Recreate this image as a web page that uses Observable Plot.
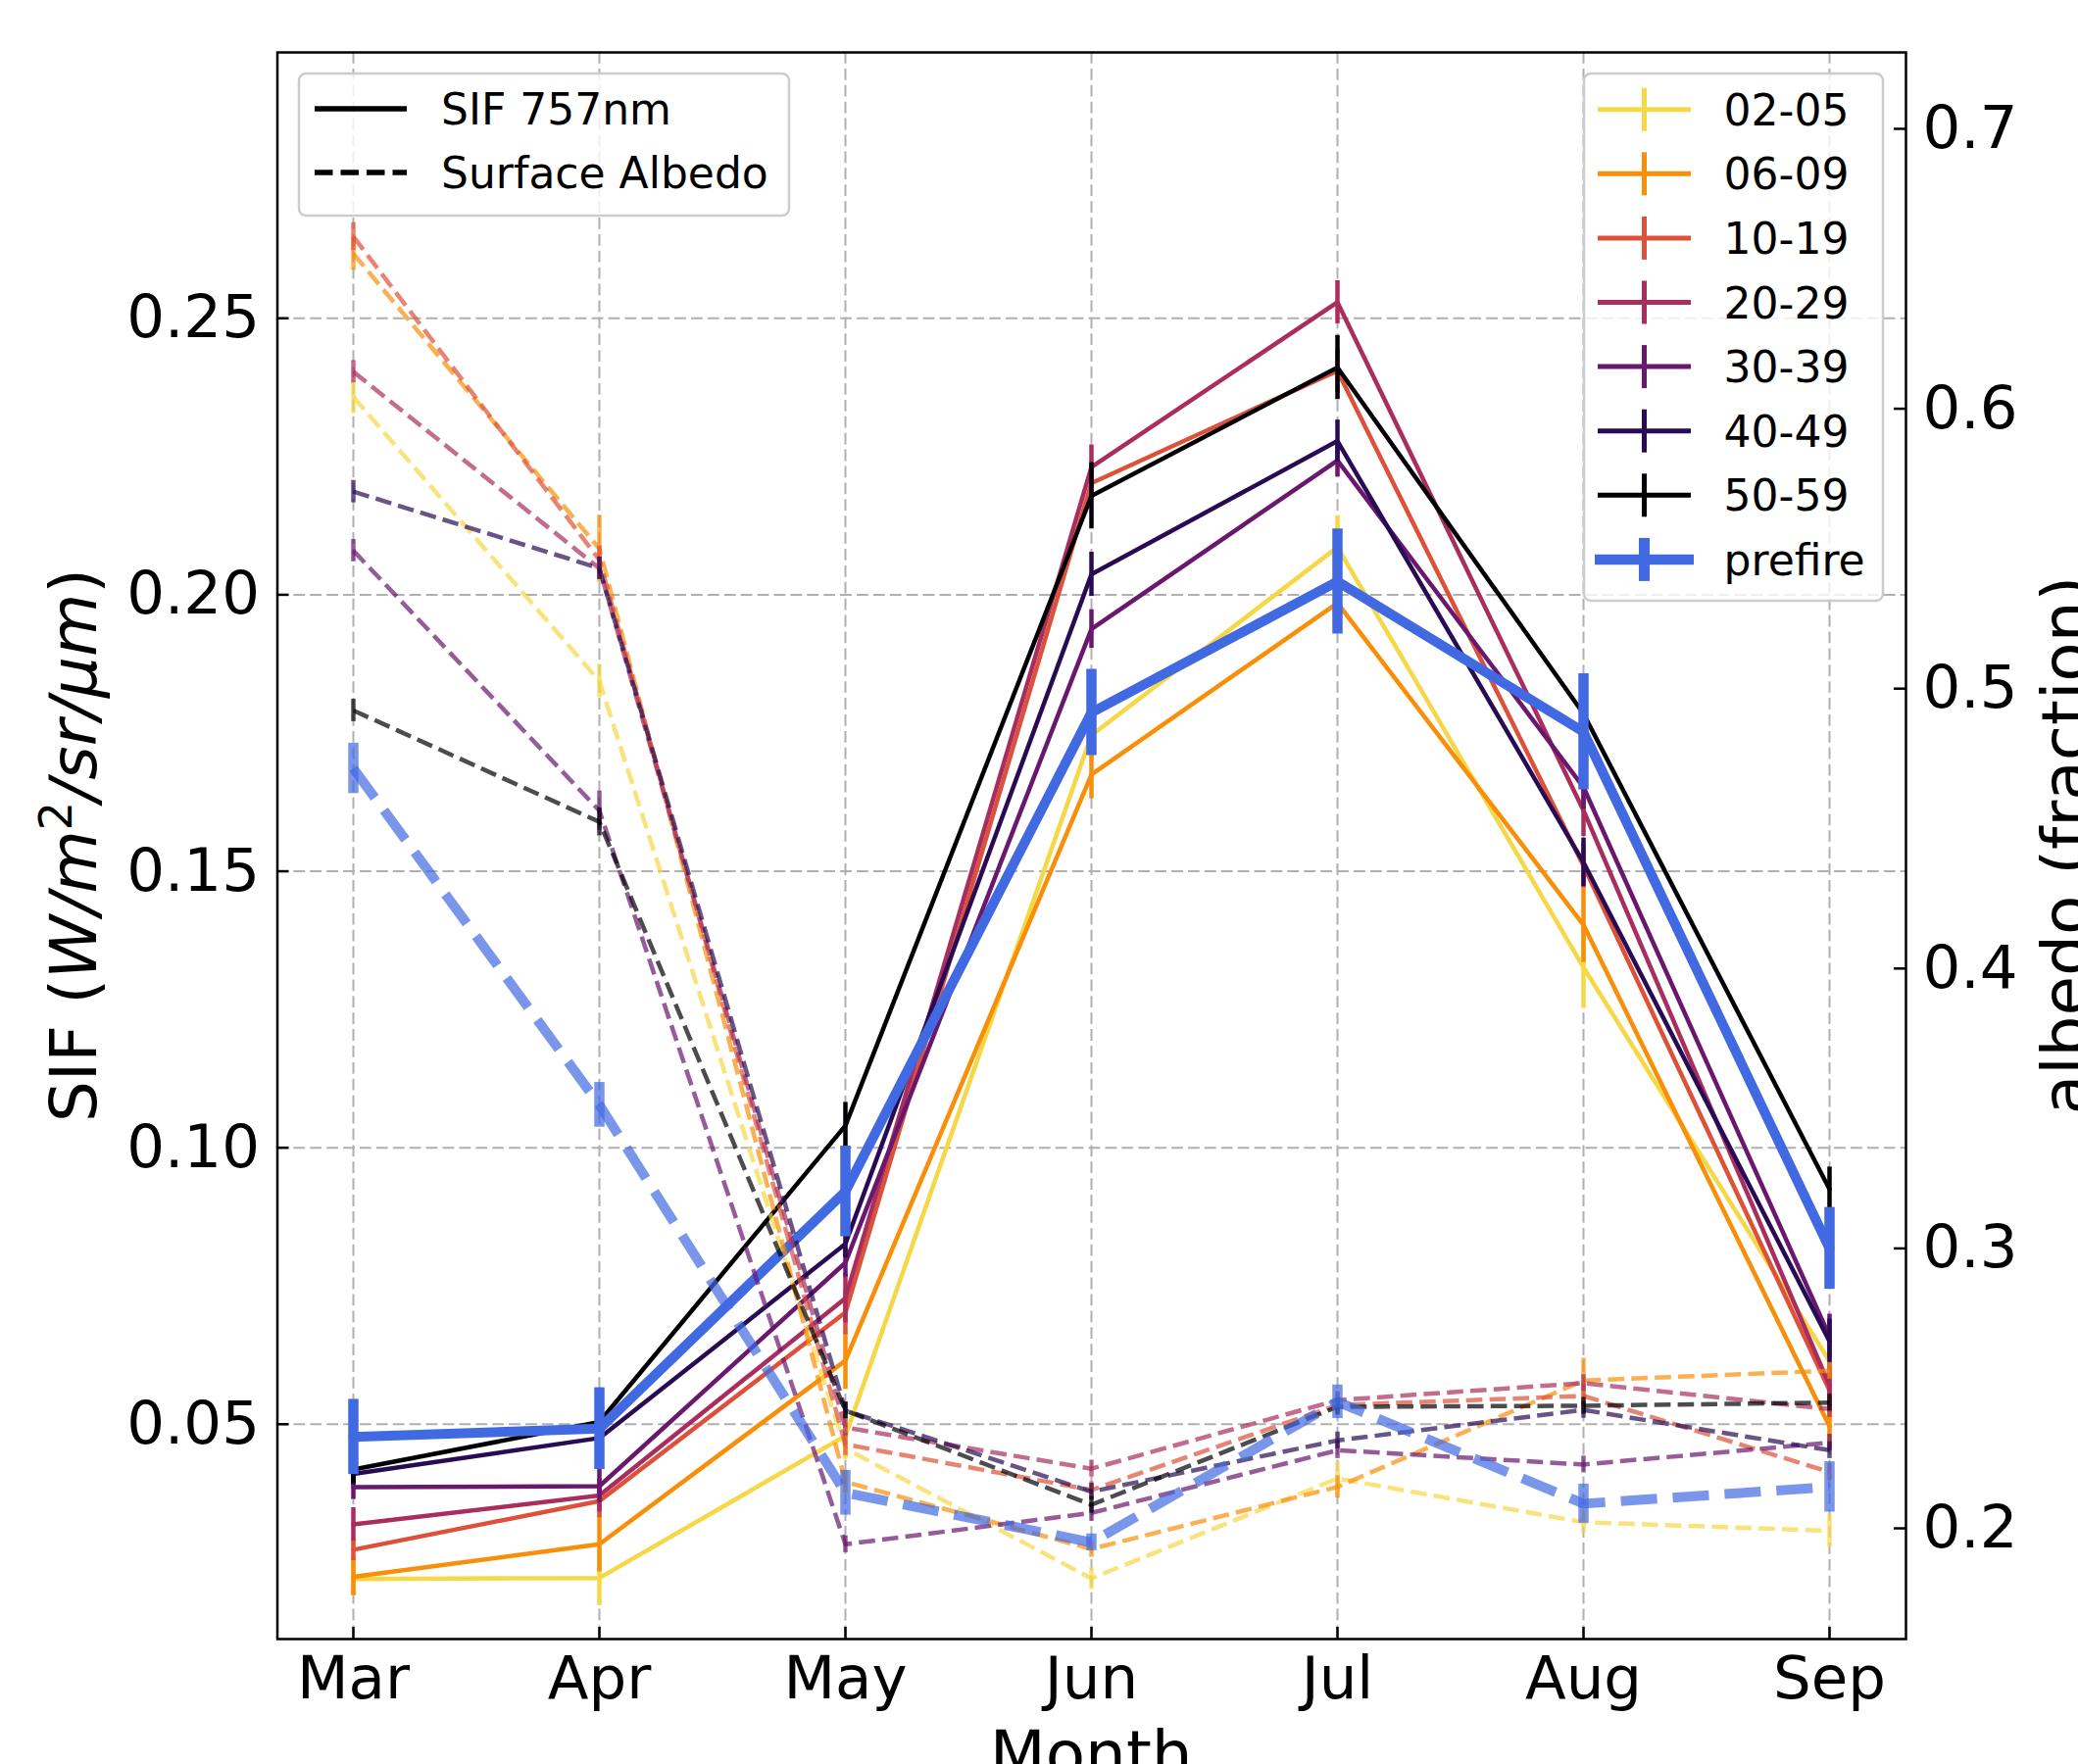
<!DOCTYPE html>
<html><head><meta charset="utf-8">
<script src="https://cdn.jsdelivr.net/npm/d3@7"></script>
<script src="https://cdn.jsdelivr.net/npm/@observablehq/plot@0.6"></script>
<style>html,body{margin:0;padding:0;background:#fff;overflow:hidden} svg{display:block}</style>
</head><body><div id="chart"></div>
<script>
const months = ["Mar","Apr","May","Jun","Jul","Aug","Sep"];
const groups = ["02-05","06-09","10-19","20-29","30-39","40-49","50-59","prefire"];
const groupColors = ["#f6d746","#f98e09","#dd513a","#a92e5e","#6a176e","#280b53","#000004","#4169e1"];

// SIF 757nm values (left axis)
const sif0205 = [0.0220,0.0222,0.0479,0.1746,0.2086,0.1326,0.0614];
const sif0609 = [0.0224,0.0283,0.0615,0.1675,0.1985,0.1403,0.0496];
const sif1019 = [0.0273,0.0361,0.0702,0.2202,0.2405,0.1510,0.0561];
const sif2029 = [0.0319,0.0371,0.0728,0.2231,0.2529,0.1610,0.0570];
const sif3039 = [0.0386,0.0388,0.0792,0.1938,0.2243,0.1652,0.0659];
const sif4049 = [0.0410,0.0475,0.0826,0.2037,0.2278,0.1516,0.0650];
const sif5059 = [0.0418,0.0504,0.1040,0.2179,0.2411,0.1785,0.0925];
const sifPrefire = [0.0477,0.0492,0.0921,0.1787,0.2024,0.1752,0.0818];

// SIF error half-widths
const sifErr0205 = [0.003,0.005,0.004,0.004,0.0057,0.0074,0.004];
const sifErr0609 = [0.0034,0.005,0.0052,0.0044,0.004,0.0068,0.004];
const sifErr1019 = [0.002,0.003,0.004,0.003,0.004,0.004,0.004];
const sifErr2029 = [0.003,0.003,0.0045,0.004,0.0039,0.0047,0.004];
const sifErr3039 = [0.0022,0.003,0.0026,0.0035,0.003,0.004,0.004];
const sifErr4049 = [0.002,0.002,0.0025,0.004,0.0038,0.0044,0.004];
const sifErr5059 = [0.0025,0.002,0.0042,0.006,0.0058,0.003,0.004];
const sifErrPrefire = [0.0068,0.0074,0.0082,0.0078,0.0095,0.0105,0.0074];

// Surface albedo values (right axis)
const alb0205 = [0.6042,0.5027,0.2285,0.1821,0.2178,0.2022,0.1991];
const alb0609 = [0.6554,0.5500,0.2166,0.1926,0.2148,0.2528,0.2563];
const alb1019 = [0.6615,0.5460,0.2300,0.2137,0.2440,0.2473,0.2201];
const alb2029 = [0.6132,0.5430,0.2360,0.2213,0.2458,0.2519,0.2426];
const alb3039 = [0.5493,0.4564,0.1943,0.2055,0.2279,0.2228,0.2306];
const alb4049 = [0.5704,0.5430,0.2421,0.2131,0.2314,0.2423,0.2279];
const alb5059 = [0.4922,0.4524,0.2421,0.2084,0.2434,0.2438,0.2449];
const albPrefire = [0.4715,0.3513,0.2127,0.1950,0.2452,0.2088,0.2148];

// albedo error half-widths
const albErr0205 = [0.006,0.006,0.004,0.004,0.006,0.004,0.006];
const albErr0609 = [0.006,0.012,0.004,0.003,0.004,0.008,0.003];
const albErr1019 = [0.005,0.005,0.004,0.003,0.003,0.004,0.003];
const albErr2029 = [0.004,0.004,0.003,0.003,0.003,0.003,0.003];
const albErr3039 = [0.004,0.007,0.003,0.003,0.003,0.003,0.003];
const albErr4049 = [0.004,0.004,0.003,0.003,0.003,0.003,0.003];
const albErr5059 = [0.004,0.005,0.003,0.003,0.003,0.003,0.003];
const albErrPrefire = [0.009,0.008,0.008,0.003,0.006,0.007,0.009];

const sifTicks = [0.05,0.10,0.15,0.20,0.25];
const albTicks = [0.2,0.3,0.4,0.5,0.6,0.7];

const sifSeries = [sif0205,sif0609,sif1019,sif2029,sif3039,sif4049,sif5059,sifPrefire];
const sifErrSeries = [sifErr0205,sifErr0609,sifErr1019,sifErr2029,sifErr3039,sifErr4049,sifErr5059,sifErrPrefire];
const albSeries = [alb0205,alb0609,alb1019,alb2029,alb3039,alb4049,alb5059,albPrefire];
const albErrSeries = [albErr0205,albErr0609,albErr1019,albErr2029,albErr3039,albErr4049,albErr5059,albErrPrefire];

// dual-axis mapping (left SIF domain <-> right albedo domain)
const Y0 = 0.01115, Y1 = 0.29808, A0 = 0.16044, A1 = 0.7273;
const toLeft = v => Y0 + (v - A0) * (Y1 - Y0) / (A1 - A0);
const fromLeft = s => A0 + (s - Y0) * (A1 - A0) / (Y1 - Y0);

const W = 2120, H = 1800;
const mL = 282.5, mR = 176, mT = 53, mB = 128;
const plotW = W - mL - mR, plotH = H - mT - mB;
const FONT = "DejaVu Sans";

const rowsFor = i => months.map((m, j) => ({
  group: groups[i], month: m,
  sif: sifSeries[i][j], sifErr: sifErrSeries[i][j],
  alb: toLeft(albSeries[i][j]),
  albLo: toLeft(albSeries[i][j] - albErrSeries[i][j]),
  albHi: toLeft(albSeries[i][j] + albErrSeries[i][j])
}));

const grid = {stroke: "#b0b0b0", strokeOpacity: 1, strokeWidth: 2, strokeDasharray: "11.8,5.1"};
const marks = [
  Plot.gridX(months, grid),
  Plot.gridY(sifTicks, grid)
];
groups.forEach((g, i) => {
  const rows = rowsFor(i);
  const pre = g === "prefire";
  const c = groupColors[i];
  marks.push(Plot.line(rows, {x: "month", y: "sif", stroke: c, strokeWidth: pre ? 10 : 4.5, strokeLinejoin: "round"}));
  marks.push(Plot.ruleX(rows, {x: "month", y1: d => d.sif - d.sifErr, y2: d => d.sif + d.sifErr, stroke: c, strokeWidth: pre ? 10.5 : 4.5, strokeLinecap: "butt"}));
});
groups.forEach((g, i) => {
  const rows = rowsFor(i);
  const pre = g === "prefire";
  const c = groupColors[i];
  const lw = pre ? 10 : 4.5;
  marks.push(Plot.line(rows, {x: "month", y: "alb", stroke: c, strokeOpacity: 0.7, strokeWidth: lw, strokeDasharray: `${3.7*lw},${1.6*lw}`, strokeLinecap: "butt"}));
  marks.push(Plot.ruleX(rows, {x: "month", y1: "albLo", y2: "albHi", stroke: c, strokeOpacity: 0.7, strokeWidth: pre ? 10.5 : 4.5, strokeLinecap: "butt"}));
});
marks.push(
  Plot.frame({stroke: "black", strokeWidth: 2.5}),
  Plot.tickX(months, {x: d => d, stroke: "black", strokeWidth: 2.5, insetTop: plotH - 12}),
  Plot.tickY(sifTicks, {y: d => d, stroke: "black", strokeWidth: 2.5, insetRight: plotW - 12}),
  Plot.tickY(albTicks.map(toLeft), {y: d => d, stroke: "black", strokeWidth: 2.5, insetLeft: plotW - 12}),
  Plot.axisX(months, {tickSize: 0, tickPadding: 17, fontSize: 61, label: null}),
  Plot.axisY(sifTicks, {tickSize: 0, tickPadding: 18, fontSize: 61, label: null, tickFormat: d => d.toFixed(2)}),
  Plot.axisY(albTicks.map(toLeft), {anchor: "right", tickSize: 0, tickPadding: 17, fontSize: 61, label: null, tickFormat: d => fromLeft(d).toFixed(1)})
);

const svg = Plot.plot({
  width: W, height: H,
  marginLeft: mL, marginRight: mR, marginTop: mT, marginBottom: mB,
  style: {fontFamily: FONT, fontSize: "61px", background: "white", color: "black"},
  x: {type: "point", domain: months, padding: 0.3, label: null},
  y: {domain: [Y0, Y1], label: null},
  marks
});
document.getElementById("chart").appendChild(svg);

const s = d3.select(svg);
// axis titles
const ylab = s.append("text").attr("transform", "translate(98,862.5) rotate(-90)")
  .attr("text-anchor", "middle").attr("font-size", 66).attr("font-family", FONT).attr("fill", "black");
ylab.append("tspan").text("SIF (");
ylab.append("tspan").attr("font-style", "italic").text("W/m");
ylab.append("tspan").attr("font-size", 46).attr("dy", -25).text("2");
ylab.append("tspan").attr("font-style", "italic").attr("dy", 25).text("/sr/μm");
ylab.append("tspan").text(")");
s.append("text").attr("transform", "translate(2130,862.5) rotate(-90)")
  .attr("text-anchor", "middle").attr("font-size", 66).attr("font-family", FONT).attr("fill", "black")
  .text("albedo (fraction)");
s.append("text").attr("x", 1113.2).attr("y", 1813)
  .attr("text-anchor", "middle").attr("font-size", 66).attr("font-family", FONT).attr("fill", "black")
  .text("Month");

// left legend (line styles)
const lg1 = s.append("g");
lg1.append("rect").attr("x", 305).attr("y", 75).attr("width", 500).attr("height", 145).attr("rx", 7)
  .attr("fill", "white").attr("fill-opacity", 0.8).attr("stroke", "#cccccc").attr("stroke-width", 2.5);
const styleItems = [["SIF 757nm", null], ["Surface Albedo", "18.5,8"]];
styleItems.forEach(([label, dash], k) => {
  const y = 111 + 65 * k;
  const ln = lg1.append("line").attr("x1", 321).attr("x2", 415).attr("y1", y).attr("y2", y)
    .attr("stroke", "black").attr("stroke-width", 5.5);
  if (dash) ln.attr("stroke-dasharray", dash);
  lg1.append("text").attr("x", 450).attr("y", y + 16).attr("font-size", 44).attr("font-family", FONT)
    .attr("text-anchor", "start").attr("fill", "black").text(label);
});

// right legend (groups)
const lg2 = s.append("g");
lg2.append("rect").attr("x", 1616).attr("y", 75).attr("width", 305).attr("height", 538).attr("rx", 7)
  .attr("fill", "white").attr("fill-opacity", 0.8).attr("stroke", "#cccccc").attr("stroke-width", 2.5);
groups.forEach((g, k) => {
  const y = 111.7 + 65.6 * k;
  const pre = g === "prefire";
  const c = groupColors[k];
  lg2.append("line").attr("x1", pre ? 1627 : 1630).attr("x2", pre ? 1728 : 1725).attr("y1", y).attr("y2", y)
    .attr("stroke", c).attr("stroke-width", pre ? 10.5 : 5);
  lg2.append("line").attr("x1", 1677.5).attr("x2", 1677.5).attr("y1", y - 22).attr("y2", y + 22)
    .attr("stroke", c).attr("stroke-width", pre ? 11 : 5);
  lg2.append("text").attr("x", 1758.6).attr("y", y + 16).attr("font-size", 44).attr("font-family", FONT)
    .attr("text-anchor", "start").attr("fill", "black").text(g);
});
</script>
</body></html>
